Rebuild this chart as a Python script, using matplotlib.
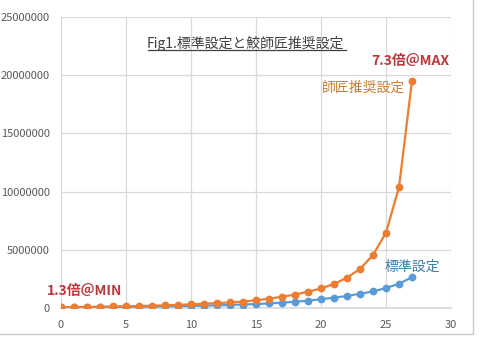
import numpy as np
import matplotlib.pyplot as plt
from matplotlib.patches import Rectangle

plt.rcParams['font.family'] = ['Noto Sans CJK JP', 'DejaVu Sans']

# level index and cumulative values for the two settings
levels = list(range(0, 28))
standard = [50e3, 58e3, 66e3, 75e3, 85e3, 96e3, 108e3, 122e3, 138e3, 155e3,
            175e3, 200e3, 230e3, 260e3, 300e3, 340e3, 390e3, 460e3, 540e3, 630e3,
            760e3, 880e3, 1040e3, 1220e3, 1420e3, 1720e3, 2080e3, 2650e3]
recommended = [65e3, 80e3, 95e3, 110e3, 130e3, 150e3, 170e3, 200e3, 230e3, 270e3,
               320e3, 370e3, 420e3, 480e3, 550e3, 660e3, 800e3, 970e3, 1150e3, 1400e3,
               1680e3, 2070e3, 2600e3, 3360e3, 4540e3, 6470e3, 10370e3, 19540e3]

y_ticks = [0, 5000000, 10000000, 15000000, 20000000, 25000000]
x_ticks = [0, 5, 10, 15, 20, 25, 30]

title = 'Fig1.標準設定と鮫師匠推奨設定'
label_std = '標準設定'
label_rec = '師匠推奨設定'
note_max = '7.3倍＠MAX'
note_min = '1.3倍＠MIN'

fig = plt.figure(figsize=(4.8, 3.43), dpi=100)
fig.patch.set_facecolor('white')
ax = fig.add_axes([61 / 480, 1 - 308 / 343, 390 / 480, 291 / 343])

# chart frame
fig.patches.append(Rectangle((-0.01, 9 / 343), 0.995, 1.05, transform=fig.transFigure,
                             fill=False, edgecolor='#c8c8c8', linewidth=1.0))

ax.plot(levels, standard, color='#5b9bd5', linewidth=1.6, marker='o', markersize=4.6, zorder=3)
ax.plot(levels, recommended, color='#ed7d31', linewidth=1.6, marker='o', markersize=4.6, zorder=4)

ax.set_xlim(0, 30)
ax.set_ylim(0, 25000000)
ax.set_xticks(x_ticks)
ax.set_yticks(y_ticks)
ax.set_yticklabels([str(v) for v in y_ticks])
ax.grid(True, color='#d9d9d9', linewidth=0.9)
ax.set_axisbelow(True)
for side in ['top', 'right', 'left']:
    ax.spines[side].set_visible(False)
ax.spines['bottom'].set_color('#d9d9d9')
ax.spines['bottom'].set_linewidth(1.2)
ax.tick_params(length=0, labelsize=8, labelcolor='#595959', pad=8)
ax.tick_params(axis='x', pad=9)

ax.text(0.473, 0.91, title, transform=ax.transAxes, ha='center', va='center',
        fontsize=10, color='#404040')
fig.add_artist(plt.Line2D([148 / 480, 346 / 480], [1 - 50 / 343, 1 - 50 / 343],
                          color='#404040', linewidth=0.9))

ax.text(29.9, 21200000, note_max, ha='right', va='center', fontsize=10,
        color='#b8393c', fontweight='bold')
ax.text(26.5, 18900000, label_rec, ha='right', va='center', fontsize=10, color='#c5803c')
ax.text(29.15, 3530000, label_std, ha='right', va='center', fontsize=10, color='#3f7ea6')
ax.text(-1.08, 1470000, note_min, ha='left', va='center', fontsize=10,
        color='#b8393c', fontweight='bold', clip_on=False)

plt.savefig('out.png', dpi=100)
